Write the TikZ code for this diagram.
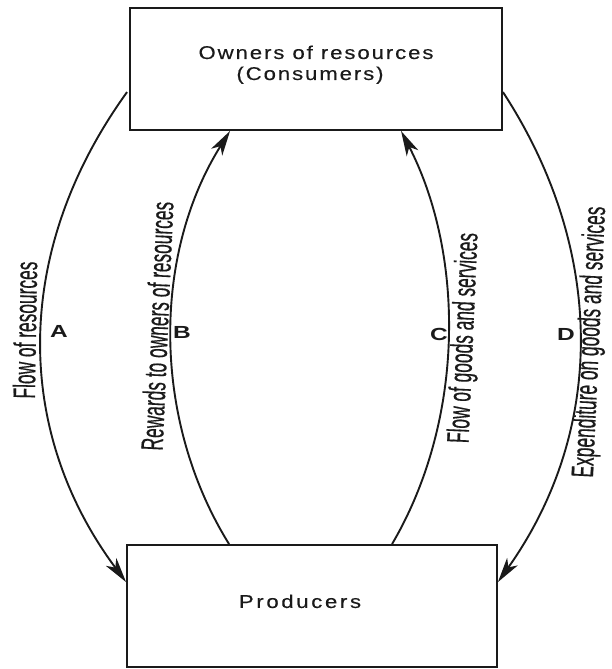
\documentclass[tikz,border=0pt]{standalone}
\usepackage{fontspec}
\setmainfont{Liberation Sans}
\newfontfamily\ownersfont[LetterSpace=8.5,FakeBold=0.3]{Liberation Sans}
\newfontfamily\producersfont[LetterSpace=11.8,FakeBold=0.3]{Liberation Sans}
\newfontfamily\condfont[FakeBold=0.6]{Liberation Sans}
\usetikzlibrary{arrows.meta,calc}
\definecolor{ink}{HTML}{1A1A1A}
\begin{document}
\begin{tikzpicture}[x=1pt,y=-1pt,
  sector/.style={draw=ink, line width=1.9pt, inner sep=0pt, text=ink},
  flow/.style={draw=ink, line width=1.9pt,
    -{Stealth[length=25pt,width=13pt,inset=7pt]}},
  flowtag/.style={font=\fontsize{17.5}{17.5}\selectfont\bfseries, xscale=1.4, inner sep=0pt, text=ink},
  flowtext/.style={font=\condfont\fontsize{31}{31}\selectfont, xscale=0.56, inner sep=0pt, text=ink}]

  \useasboundingbox (0,0) rectangle (612,669);

  % the two sectors
  \node[sector, minimum width=372pt, minimum height=122pt, text depth=13.7pt,
        font=\ownersfont\fontsize{18.5}{21}\selectfont]
    (owners) at (316,69)
    {\scalebox{1.2}[1]{\begin{tabular}[b]{@{}c@{}}Owners of resources\\(Consumers)\hspace*{10pt}\end{tabular}}};
  \node[sector, minimum width=370pt, minimum height=122pt, text depth=9.5pt,
        font=\producersfont\fontsize{18.5}{21}\selectfont]
    (producers) at (312,606) {\scalebox{1.2}[1]{Producers}\hspace*{24pt}};

  % circular flows
  \draw[flow] ($(owners.north west)+(-2,85)$)
    .. controls (13,250) and (13,430) .. ($(producers.north west)+(0,38)$);
  \draw[flow] ($(producers.north west)+(103,0)$)
    .. controls (152,420) and (152,255) .. ($(owners.south west)+(101,0)$);
  \draw[flow] ($(producers.north west)+(266,0)$)
    .. controls (465,420) and (465,255) .. ($(owners.south west)+(272,0)$);
  \draw[flow] ($(owners.north east)+(0,85)$)
    .. controls (606,250) and (606,430) .. ($(producers.north east)+(0,38)$);

  % flow letters
  \node[flowtag] (tagA) at (59,331) {A};
  \node[flowtag] (tagB) at (182,332) {B};
  \node[flowtag] (tagC) at (439,334) {C};
  \node[flowtag] (tagD) at (566,334) {D};

  % flow descriptions
  \node[rotate=89, flowtext] (descA) at (25,330) {Flow of resources};
  \node[rotate=87.5, flowtext] (descB) at (157,326) {Rewards to owners of resources};
  \node[rotate=87.5, flowtext] (descC) at (465,338) {Flow of goods and services};
  \node[rotate=87.4, flowtext] (descD) at (591,342) {Expenditure on goods and services};
\end{tikzpicture}
\end{document}
